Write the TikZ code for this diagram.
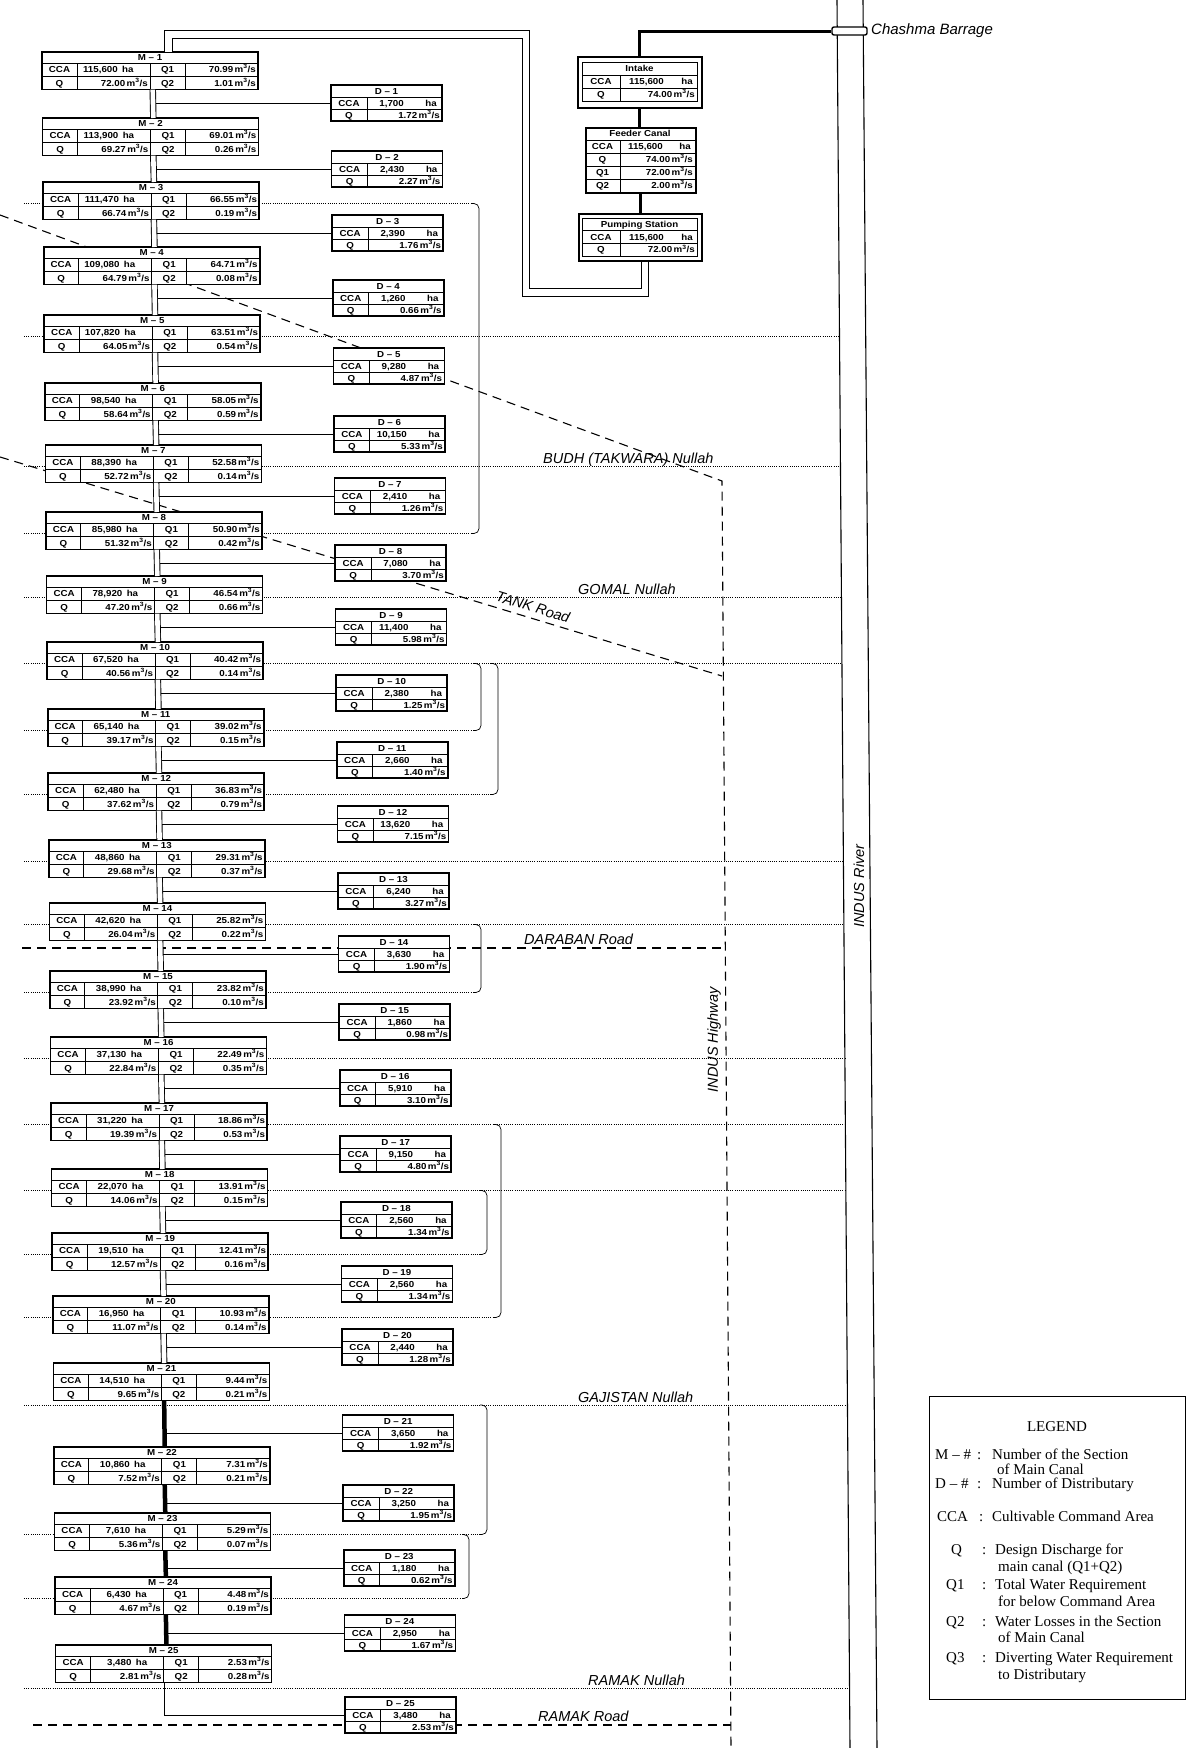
\documentclass[tikz,border=0pt]{standalone}
\usepackage{fontspec}
\setmainfont{Liberation Serif}
\newfontfamily\boxfont[FakeStretch=1.12]{Liberation Sans}
\newfontfamily\labfont{Liberation Sans}
\usetikzlibrary{calc}
\tikzset{
 mbox/.style={draw, line width=1.6pt, fill=white, minimum width=216pt, minimum height=37.6pt, inner sep=0pt, outer sep=0pt, anchor=north west},
 dbox/.style={draw, line width=1.6pt, fill=white, minimum width=111pt, minimum height=36pt, inner sep=0pt, outer sep=0pt, anchor=north west},
 cell/.style={line width=1pt},
 bt/.style={font=\boxfont\bfseries\fontsize{8.7}{9}\selectfont, inner sep=0pt, text height=6.3pt, text depth=0pt},
 canal/.style={draw, double, double distance=4.6pt, line width=0.9pt},
 bigcanal/.style={draw, double, double distance=6.5pt, line width=0.9pt},
 scanal/.style={line width=4.5pt},
 conn/.style={line width=0.8pt},
 nul/.style={line width=0.6pt, dash pattern=on 1pt off 1.2pt},
 brk/.style={line width=0.7pt, rounded corners=5pt},
 road/.style={line width=1.1pt, dash pattern=on 9pt off 6pt},
 river/.style={line width=1.1pt},
 lab/.style={font=\labfont\itshape\fontsize{14.5}{16}\selectfont, inner sep=0pt},
 leg/.style={font=\fontsize{15}{17}\selectfont, inner sep=0pt, anchor=base west},
 thk/.style={line width=3pt},
}
% main canal section: #1 k, #2 top y, #3 CCA, #4 Q, #5 Q1, #6 Q2
\newcommand{\mainsec}[6]{%
\begin{scope}[shift={({42+0.57*(#1-1)},#2)}]
\node[mbox] (M#1) at (0,0) {};
\draw[cell] (0,11)--(216,11) (0,24.3)--(216,24.3) (35,11)--(35,37.6) (108,11)--(108,37.6) (143,11)--(143,37.6);
\node[bt] at (108,5.6) {M \textendash{} #1};
\node[bt] at (17.5,17.65) {CCA};
\node[bt,anchor=east] at (76,17.65) {#3};
\node[bt,anchor=west] at (80,17.65) {ha};
\node[bt] at (125.5,17.65) {Q1};
\node[bt,anchor=east] at (214,17.65) {#5\,m\textsuperscript{3}/s};
\node[bt] at (17.5,30.95) {Q};
\node[bt,anchor=east] at (106,30.95) {#4\,m\textsuperscript{3}/s};
\node[bt] at (125.5,30.95) {Q2};
\node[bt,anchor=east] at (214,30.95) {#6\,m\textsuperscript{3}/s};
\end{scope}}
% distributary: #1 k, #2 top y, #3 CCA, #4 Q
\newcommand{\distsec}[4]{%
\begin{scope}[shift={({331+0.58*(#1-1)},#2)}]
\node[dbox] (D#1) at (0,0) {};
\draw[cell] (0,12)--(111,12) (0,24)--(111,24) (36,12)--(36,36);
\node[bt] at (55.5,6) {D \textendash{} #1};
\node[bt] at (18,18) {CCA};
\node[bt,anchor=east] at (73,18) {#3};
\node[bt,anchor=east] at (106,18) {ha};
\node[bt] at (18,30) {Q};
\node[bt,anchor=east] at (109,30) {#4\,m\textsuperscript{3}/s};
\end{scope}}
\newcommand{\nulriver}[1]{\draw[nul] (24,#1) -- ({837+0.00744*#1},#1);}
\newcommand{\nulto}[2]{\draw[nul] (24,#1) -- (#2,#1);}
\newcommand{\nulbr}[3]{\draw[brk] ({#3-7},#1) -- (#3,#1) -- (#3,#2) -- ({#3-7},#2);}
\begin{document}
\begin{tikzpicture}[x=1pt,y=-1pt]
\useasboundingbox (0,0) rectangle (1188,1748);
\fill[white] (0,0) rectangle (1188,1748);

% roads
\draw[road] (0,215) -- (722,481) -- (731,1748);
\draw[road] (0,457) -- (722,676);
\draw[road] (22,948) -- (725,948);
\draw[road] (33,1725) -- (731,1725);

% nullahs
\nulto{203.5}{473} \nulto{533.5}{473} \nulbr{203.5}{533.5}{479}
\nulriver{336.5}
\nulriver{466.5}
\nulriver{597.5}
\nulriver{663.5}
\nulto{730.5}{475} \nulbr{663.5}{730.5}{481}
\nulto{794.5}{492} \nulbr{663.5}{794.5}{498}
\nulriver{861.5}
\nulriver{924.5}
\nulto{992.5}{475} \nulbr{924.5}{992.5}{481}
\nulriver{1058.5}
\nulriver{1124.5}
\nulriver{1190.5}
\nulto{1254.5}{481} \nulbr{1190.5}{1254.5}{487}
\nulto{1317.5}{495} \nulbr{1124.5}{1317.5}{501}
\nulriver{1405}
\nulto{1534.5}{481} \nulbr{1405}{1534.5}{487}
\nulto{1598.5}{463} \nulbr{1534.5}{1598.5}{469}
\nulriver{1688}

% river
\draw[river] (837,0) -- (850,1748);
\draw[river] (863,0) -- (877,1748);

% main canal sections
\mainsec{1}{52}{115,600}{72.00}{70.99}{1.01}
\mainsec{2}{118}{113,900}{69.27}{69.01}{0.26}
\mainsec{3}{182}{111,470}{66.74}{66.55}{0.19}
\mainsec{4}{247}{109,080}{64.79}{64.71}{0.08}
\mainsec{5}{315}{107,820}{64.05}{63.51}{0.54}
\mainsec{6}{383}{98,540}{58.64}{58.05}{0.59}
\mainsec{7}{445}{88,390}{52.72}{52.58}{0.14}
\mainsec{8}{512}{85,980}{51.32}{50.90}{0.42}
\mainsec{9}{576}{78,920}{47.20}{46.54}{0.66}
\mainsec{10}{642}{67,520}{40.56}{40.42}{0.14}
\mainsec{11}{709}{65,140}{39.17}{39.02}{0.15}
\mainsec{12}{773}{62,480}{37.62}{36.83}{0.79}
\mainsec{13}{840}{48,860}{29.68}{29.31}{0.37}
\mainsec{14}{903}{42,620}{26.04}{25.82}{0.22}
\mainsec{15}{971}{38,990}{23.92}{23.82}{0.10}
\mainsec{16}{1037}{37,130}{22.84}{22.49}{0.35}
\mainsec{17}{1103}{31,220}{19.39}{18.86}{0.53}
\mainsec{18}{1169}{22,070}{14.06}{13.91}{0.15}
\mainsec{19}{1233}{19,510}{12.57}{12.41}{0.16}
\mainsec{20}{1296}{16,950}{11.07}{10.93}{0.14}
\mainsec{21}{1363}{14,510}{9.65}{9.44}{0.21}
\mainsec{22}{1447}{10,860}{7.52}{7.31}{0.21}
\mainsec{23}{1513}{7,610}{5.36}{5.29}{0.07}
\mainsec{24}{1577}{6,430}{4.67}{4.48}{0.19}
\mainsec{25}{1645}{3,480}{2.81}{2.53}{0.28}

% distributaries
\distsec{1}{85}{1,700}{1.72}
\distsec{2}{151}{2,430}{2.27}
\distsec{3}{215}{2,390}{1.76}
\distsec{4}{280}{1,260}{0.66}
\distsec{5}{348}{9,280}{4.87}
\distsec{6}{416}{10,150}{5.33}
\distsec{7}{478}{2,410}{1.26}
\distsec{8}{545}{7,080}{3.70}
\distsec{9}{609}{11,400}{5.98}
\distsec{10}{675}{2,380}{1.25}
\distsec{11}{742}{2,660}{1.40}
\distsec{12}{806}{13,620}{7.15}
\distsec{13}{873}{6,240}{3.27}
\distsec{14}{936}{3,630}{1.90}
\distsec{15}{1004}{1,860}{0.98}
\distsec{16}{1070}{5,910}{3.10}
\distsec{17}{1136}{9,150}{4.80}
\distsec{18}{1202}{2,560}{1.34}
\distsec{19}{1266}{2,560}{1.34}
\distsec{20}{1329}{2,440}{1.28}
\distsec{21}{1415}{3,650}{1.92}
\distsec{22}{1485}{3,250}{1.95}
\distsec{23}{1550}{1,180}{0.62}
\distsec{24}{1615}{2,950}{1.67}
\distsec{25}{1697}{3,480}{2.53}

% canal between sections
\foreach \k [evaluate=\k as \n using int(\k+1)] in {1,...,20}
  \draw[canal] ($(M\k.south west)+(110.75,0)$) -- ($(M\n.north west)+(110.75,0)$);
\foreach \k [evaluate=\k as \n using int(\k+1)] in {21,...,24}
  \draw[scanal] ($(M\k.south west)+(110.75,0)$) -- ($(M\n.north west)+(110.75,0)$);

% connectors to distributaries
\foreach \k in {1,...,20} {
  \path ($(M\k.south west)+(114,0)$) coordinate (c\k);
  \draw[conn] (c\k |- D\k.west) -- (D\k.west);
}
\foreach \k in {21,...,24} {
  \path ($(M\k.south west)+(113,0)$) coordinate (c\k);
  \draw[conn] (c\k |- D\k.west) -- (D\k.west);
}
\draw[conn] ($(M25.south west)+(109,0)$) |- (D25.west);

% head works
\node[draw, line width=1.6pt, fill=white, minimum width=124pt, minimum height=51pt, inner sep=0pt, anchor=north west] (intake) at (577,56) {};
\draw[cell] (582,62) rectangle (697,101) (582,75) -- (697,75) (582,88) -- (697,88) (620,75) -- (620,101);
\node[bt] at (639.5,68.5) {Intake};
\node[bt] at (601,81.5) {CCA};
\node[bt,anchor=east] at (664,81.5) {115,600};
\node[bt,anchor=east] at (693,81.5) {ha};
\node[bt] at (601,94.5) {Q};
\node[bt,anchor=east] at (695,94.5) {74.00\,m\textsuperscript{3}/s};

\node[draw, line width=1.6pt, fill=white, minimum width=110pt, minimum height=65pt, inner sep=0pt, anchor=north west] (feeder) at (585,127) {};
\draw[cell] (585,140) -- (695,140) (585,153) -- (695,153) (585,166) -- (695,166) (585,179) -- (695,179) (620,140) -- (620,192);
\node[bt] at (640,133.5) {Feeder Canal};
\node[bt] at (602.5,146.5) {CCA};
\node[bt,anchor=east] at (663,146.5) {115,600};
\node[bt,anchor=east] at (691,146.5) {ha};
\node[bt] at (602.5,159.5) {Q};
\node[bt,anchor=east] at (693,159.5) {74.00\,m\textsuperscript{3}/s};
\node[bt] at (602.5,172.5) {Q1};
\node[bt,anchor=east] at (693,172.5) {72.00\,m\textsuperscript{3}/s};
\node[bt] at (602.5,185.5) {Q2};
\node[bt,anchor=east] at (693,185.5) {2.00\,m\textsuperscript{3}/s};

\node[draw, line width=1.6pt, fill=white, minimum width=123pt, minimum height=47pt, inner sep=0pt, anchor=north west] (pump) at (578,213) {};
\draw[cell] (582,218) rectangle (697,256) (582,230.7) -- (697,230.7) (582,243.3) -- (697,243.3) (620,230.7) -- (620,256);
\node[bt] at (639.5,224.3) {Pumping Station};
\node[bt] at (601,237) {CCA};
\node[bt,anchor=east] at (664,237) {115,600};
\node[bt,anchor=east] at (693,237) {ha};
\node[bt] at (601,249.7) {Q};
\node[bt,anchor=east] at (695,249.7) {72.00\,m\textsuperscript{3}/s};

\node[draw, line width=1.4pt, fill=white, rounded corners=2pt, minimum width=35pt, minimum height=8pt, inner sep=0pt] (barrage) at (849.5,31) {};
\draw[thk] (intake.north) |- (barrage.west);
\draw[thk] (intake.south) -- (intake.south |- feeder.north);
\draw[thk] (feeder.south) -- (feeder.south |- pump.north);
\draw[bigcanal] ($(pump.south)+(4.5,0)$) -- ++(0,31) -| (526,34.5) -| ($(M1.north west)+(126.5,0)$);

% labels
\node[lab, anchor=west, font=\labfont\itshape\fontsize{15}{17}\selectfont] at (871,31) {Chashma Barrage};
\node[lab, anchor=base west] at (543,463) {BUDH (TAKWARA) Nullah};
\node[lab, anchor=base west] at (578,594) {GOMAL Nullah};
\node[lab, anchor=base west] at (578,1402) {GAJISTAN Nullah};
\node[lab, anchor=base west] at (588,1685) {RAMAK Nullah};
\node[lab, anchor=base west] at (524,944) {DARABAN Road};
\node[lab, anchor=base west] at (538,1721) {RAMAK Road};
\node[lab, rotate=-17] at (533,607) {TANK Road};
\node[lab, rotate=90] at (714,1040) {INDUS Highway};
\node[lab, rotate=90] at (859,886) {INDUS River};

% legend
\node[draw, line width=1.2pt, minimum width=256pt, minimum height=303pt, inner sep=0pt, anchor=north west] (legend) at (929,1396) {};
\node[leg, anchor=base] at (1057,1431) {LEGEND};
\node[leg] at (935,1459.5) {M \textendash{} \#};
\node[leg] at (977,1459.5) {:};
\node[leg] at (992,1459.5) {Number of the Section};
\node[leg] at (997,1474.5) {of Main Canal};
\node[leg] at (935,1488.5) {D \textendash{} \#};
\node[leg] at (977,1488.5) {:};
\node[leg] at (992,1488.5) {Number of Distributary};
\node[leg] at (937,1521) {CCA};
\node[leg] at (979,1521) {:};
\node[leg] at (992,1521) {Cultivable Command Area};
\node[leg] at (951,1554.5) {Q};
\node[leg] at (982,1554.5) {:};
\node[leg] at (995,1554.5) {Design Discharge for};
\node[leg] at (998,1571) {main canal (Q1+Q2)};
\node[leg] at (946,1589.5) {Q1};
\node[leg] at (982,1589.5) {:};
\node[leg] at (995,1589.5) {Total Water Requirement};
\node[leg] at (998,1606) {for below Command Area};
\node[leg] at (946,1626) {Q2};
\node[leg] at (982,1626) {:};
\node[leg] at (995,1626) {Water Losses in the Section};
\node[leg] at (998,1642.5) {of Main Canal};
\node[leg] at (946,1662.5) {Q3};
\node[leg] at (982,1662.5) {:};
\node[leg] at (995,1662.5) {Diverting Water Requirement};
\node[leg] at (998,1679) {to Distributary};
\end{tikzpicture}
\end{document}
